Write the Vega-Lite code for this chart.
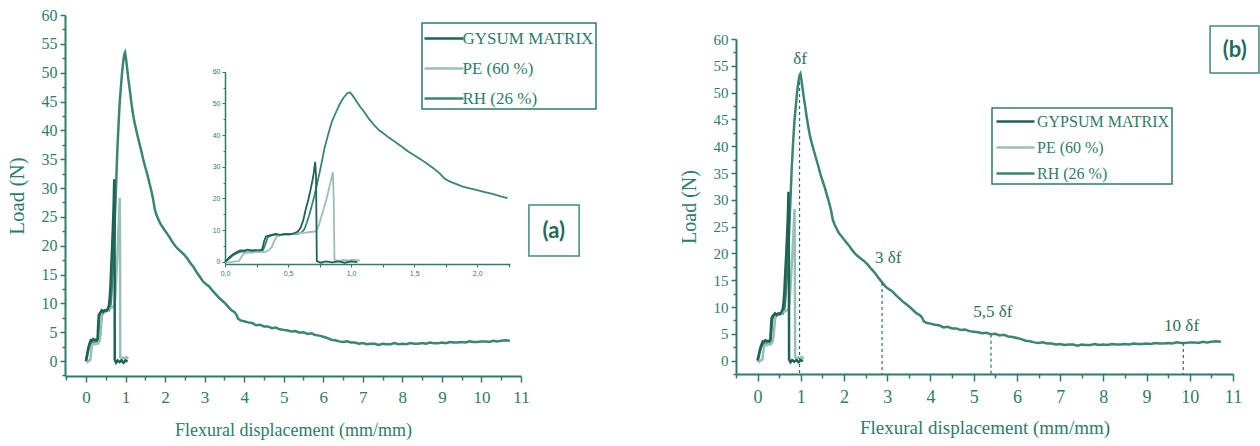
{
  "$schema": "https://vega.github.io/schema/vega-lite/v6.json",
  "width": 1260,
  "height": 446,
  "autosize": "none",
  "padding": 0,
  "background": "white",
  "config": {
    "view": {"stroke": null},
    "axis": {"grid": false, "domainColor": "#2e7b6b", "domainWidth": 2, "tickColor": "#2e7b6b", "tickWidth": 1.5, "labelColor": "#2e7b6b", "titleColor": "#2e7b6b", "labelFont": "Liberation Serif", "titleFont": "Liberation Serif", "titleFontWeight": "normal", "labelOverlap": false, "labelFlush": false, "labelBound": false, "tickCount": 200}
  },
  "datasets": {
    "curves": [
      {"series":"RH (26 %)","x":0,"y":0},{"series":"RH (26 %)","x":0.03,"y":0.9},{"series":"RH (26 %)","x":0.06,"y":1.9},{"series":"RH (26 %)","x":0.09,"y":2.6},{"series":"RH (26 %)","x":0.12,"y":3.1},{"series":"RH (26 %)","x":0.15,"y":3.3},{"series":"RH (26 %)","x":0.18,"y":3.0},{"series":"RH (26 %)","x":0.21,"y":3.2},{"series":"RH (26 %)","x":0.24,"y":3.1},{"series":"RH (26 %)","x":0.27,"y":3.4},{"series":"RH (26 %)","x":0.3,"y":3.6},{"series":"RH (26 %)","x":0.32,"y":5.5},{"series":"RH (26 %)","x":0.34,"y":7.8},{"series":"RH (26 %)","x":0.37,"y":8.3},{"series":"RH (26 %)","x":0.4,"y":8.6},{"series":"RH (26 %)","x":0.43,"y":8.3},{"series":"RH (26 %)","x":0.46,"y":8.7},{"series":"RH (26 %)","x":0.5,"y":8.6},{"series":"RH (26 %)","x":0.54,"y":8.9},{"series":"RH (26 %)","x":0.58,"y":8.8},{"series":"RH (26 %)","x":0.61,"y":9.3},{"series":"RH (26 %)","x":0.63,"y":10.3},{"series":"RH (26 %)","x":0.65,"y":12.5},{"series":"RH (26 %)","x":0.67,"y":15},{"series":"RH (26 %)","x":0.69,"y":18},{"series":"RH (26 %)","x":0.71,"y":21},{"series":"RH (26 %)","x":0.73,"y":24.5},{"series":"RH (26 %)","x":0.76,"y":30},{"series":"RH (26 %)","x":0.79,"y":36},{"series":"RH (26 %)","x":0.82,"y":40.5},{"series":"RH (26 %)","x":0.85,"y":44.5},{"series":"RH (26 %)","x":0.88,"y":47.2},{"series":"RH (26 %)","x":0.91,"y":49.8},{"series":"RH (26 %)","x":0.94,"y":51.8},{"series":"RH (26 %)","x":0.97,"y":53.2},{"series":"RH (26 %)","x":0.99,"y":53.5},{"series":"RH (26 %)","x":1.01,"y":52.6},{"series":"RH (26 %)","x":1.04,"y":50.8},{"series":"RH (26 %)","x":1.07,"y":49},{"series":"RH (26 %)","x":1.1,"y":47.5},{"series":"RH (26 %)","x":1.14,"y":45.2},{"series":"RH (26 %)","x":1.18,"y":43.3},{"series":"RH (26 %)","x":1.22,"y":41.6},{"series":"RH (26 %)","x":1.26,"y":40.4},{"series":"RH (26 %)","x":1.3,"y":39.2},{"series":"RH (26 %)","x":1.35,"y":37.8},{"series":"RH (26 %)","x":1.4,"y":36.4},{"series":"RH (26 %)","x":1.45,"y":34.9},{"series":"RH (26 %)","x":1.5,"y":33.6},{"series":"RH (26 %)","x":1.55,"y":32.4},{"series":"RH (26 %)","x":1.6,"y":31},{"series":"RH (26 %)","x":1.65,"y":29.6},{"series":"RH (26 %)","x":1.7,"y":28},{"series":"RH (26 %)","x":1.74,"y":26.3},{"series":"RH (26 %)","x":1.78,"y":25.4},{"series":"RH (26 %)","x":1.83,"y":24.6},{"series":"RH (26 %)","x":1.88,"y":23.8},{"series":"RH (26 %)","x":1.94,"y":23.2},{"series":"RH (26 %)","x":2.0,"y":22.6},{"series":"RH (26 %)","x":2.06,"y":22},{"series":"RH (26 %)","x":2.12,"y":21.4},{"series":"RH (26 %)","x":2.18,"y":20.7},{"series":"RH (26 %)","x":2.24,"y":20.1},{"series":"RH (26 %)","x":2.3,"y":19.6},{"series":"RH (26 %)","x":2.38,"y":19.1},{"series":"RH (26 %)","x":2.46,"y":18.6},{"series":"RH (26 %)","x":2.55,"y":17.9},{"series":"RH (26 %)","x":2.63,"y":17.1},{"series":"RH (26 %)","x":2.72,"y":16.3},{"series":"RH (26 %)","x":2.8,"y":15.4},{"series":"RH (26 %)","x":2.88,"y":14.6},{"series":"RH (26 %)","x":2.96,"y":13.8},{"series":"RH (26 %)","x":3.04,"y":13.3},{"series":"RH (26 %)","x":3.12,"y":12.9},{"series":"RH (26 %)","x":3.2,"y":12.2},{"series":"RH (26 %)","x":3.28,"y":11.6},{"series":"RH (26 %)","x":3.36,"y":11.0},{"series":"RH (26 %)","x":3.44,"y":10.5},{"series":"RH (26 %)","x":3.52,"y":10.0},{"series":"RH (26 %)","x":3.6,"y":9.4},{"series":"RH (26 %)","x":3.68,"y":8.8},{"series":"RH (26 %)","x":3.75,"y":8.5},{"series":"RH (26 %)","x":3.8,"y":8.1},{"series":"RH (26 %)","x":3.85,"y":7.3},{"series":"RH (26 %)","x":3.92,"y":7.0},{"series":"RH (26 %)","x":4.0,"y":6.9},{"series":"RH (26 %)","x":4.1,"y":6.7},{"series":"RH (26 %)","x":4.2,"y":6.6},{"series":"RH (26 %)","x":4.3,"y":6.2},{"series":"RH (26 %)","x":4.4,"y":6.3},{"series":"RH (26 %)","x":4.5,"y":6.0},{"series":"RH (26 %)","x":4.6,"y":6.0},{"series":"RH (26 %)","x":4.7,"y":5.7},{"series":"RH (26 %)","x":4.8,"y":5.8},{"series":"RH (26 %)","x":4.9,"y":5.5},{"series":"RH (26 %)","x":5.0,"y":5.4},{"series":"RH (26 %)","x":5.1,"y":5.3},{"series":"RH (26 %)","x":5.2,"y":5.1},{"series":"RH (26 %)","x":5.3,"y":5.2},{"series":"RH (26 %)","x":5.4,"y":4.9},{"series":"RH (26 %)","x":5.5,"y":5.0},{"series":"RH (26 %)","x":5.6,"y":4.7},{"series":"RH (26 %)","x":5.7,"y":4.8},{"series":"RH (26 %)","x":5.8,"y":4.5},{"series":"RH (26 %)","x":5.9,"y":4.4},{"series":"RH (26 %)","x":6.0,"y":4.2},{"series":"RH (26 %)","x":6.1,"y":4.0},{"series":"RH (26 %)","x":6.2,"y":3.7},{"series":"RH (26 %)","x":6.3,"y":3.6},{"series":"RH (26 %)","x":6.4,"y":3.4},{"series":"RH (26 %)","x":6.5,"y":3.3},{"series":"RH (26 %)","x":6.6,"y":3.4},{"series":"RH (26 %)","x":6.7,"y":3.2},{"series":"RH (26 %)","x":6.8,"y":3.2},{"series":"RH (26 %)","x":6.9,"y":3.0},{"series":"RH (26 %)","x":7.0,"y":3.1},{"series":"RH (26 %)","x":7.1,"y":2.9},{"series":"RH (26 %)","x":7.2,"y":3.0},{"series":"RH (26 %)","x":7.3,"y":3.0},{"series":"RH (26 %)","x":7.4,"y":2.8},{"series":"RH (26 %)","x":7.5,"y":3.0},{"series":"RH (26 %)","x":7.6,"y":2.9},{"series":"RH (26 %)","x":7.7,"y":2.9},{"series":"RH (26 %)","x":7.8,"y":3.1},{"series":"RH (26 %)","x":7.9,"y":2.9},{"series":"RH (26 %)","x":8.0,"y":3.0},{"series":"RH (26 %)","x":8.1,"y":2.9},{"series":"RH (26 %)","x":8.2,"y":3.1},{"series":"RH (26 %)","x":8.3,"y":3.0},{"series":"RH (26 %)","x":8.4,"y":3.0},{"series":"RH (26 %)","x":8.5,"y":3.1},{"series":"RH (26 %)","x":8.6,"y":3.0},{"series":"RH (26 %)","x":8.7,"y":3.2},{"series":"RH (26 %)","x":8.8,"y":3.1},{"series":"RH (26 %)","x":8.9,"y":3.1},{"series":"RH (26 %)","x":9.0,"y":3.2},{"series":"RH (26 %)","x":9.1,"y":3.1},{"series":"RH (26 %)","x":9.2,"y":3.3},{"series":"RH (26 %)","x":9.3,"y":3.2},{"series":"RH (26 %)","x":9.4,"y":3.2},{"series":"RH (26 %)","x":9.5,"y":3.3},{"series":"RH (26 %)","x":9.6,"y":3.2},{"series":"RH (26 %)","x":9.7,"y":3.4},{"series":"RH (26 %)","x":9.8,"y":3.3},{"series":"RH (26 %)","x":9.9,"y":3.3},{"series":"RH (26 %)","x":10.0,"y":3.4},{"series":"RH (26 %)","x":10.1,"y":3.4},{"series":"RH (26 %)","x":10.2,"y":3.3},{"series":"RH (26 %)","x":10.3,"y":3.5},{"series":"RH (26 %)","x":10.4,"y":3.4},{"series":"RH (26 %)","x":10.5,"y":3.5},{"series":"RH (26 %)","x":10.6,"y":3.6},{"series":"RH (26 %)","x":10.72,"y":3.5},
      {"series":"PE (60 %)","x":0,"y":0},{"series":"PE (60 %)","x":0.04,"y":-0.2},{"series":"PE (60 %)","x":0.08,"y":0.1},{"series":"PE (60 %)","x":0.11,"y":0.2},{"series":"PE (60 %)","x":0.13,"y":1.5},{"series":"PE (60 %)","x":0.15,"y":2.6},{"series":"PE (60 %)","x":0.18,"y":3.0},{"series":"PE (60 %)","x":0.22,"y":2.9},{"series":"PE (60 %)","x":0.26,"y":3.1},{"series":"PE (60 %)","x":0.3,"y":3.0},{"series":"PE (60 %)","x":0.34,"y":3.4},{"series":"PE (60 %)","x":0.37,"y":4.6},{"series":"PE (60 %)","x":0.39,"y":6.5},{"series":"PE (60 %)","x":0.41,"y":8.0},{"series":"PE (60 %)","x":0.44,"y":8.4},{"series":"PE (60 %)","x":0.48,"y":8.6},{"series":"PE (60 %)","x":0.52,"y":8.8},{"series":"PE (60 %)","x":0.56,"y":8.9},{"series":"PE (60 %)","x":0.6,"y":9.1},{"series":"PE (60 %)","x":0.64,"y":9.2},{"series":"PE (60 %)","x":0.68,"y":9.4},{"series":"PE (60 %)","x":0.72,"y":9.6},{"series":"PE (60 %)","x":0.74,"y":11},{"series":"PE (60 %)","x":0.77,"y":15},{"series":"PE (60 %)","x":0.8,"y":19},{"series":"PE (60 %)","x":0.83,"y":24},{"series":"PE (60 %)","x":0.855,"y":28.3},{"series":"PE (60 %)","x":0.862,"y":20},{"series":"PE (60 %)","x":0.868,"y":0.6},{"series":"PE (60 %)","x":0.9,"y":0.3},{"series":"PE (60 %)","x":0.94,"y":0.6},{"series":"PE (60 %)","x":0.98,"y":0.4},{"series":"PE (60 %)","x":1.02,"y":0.7},{"series":"PE (60 %)","x":1.07,"y":0.4},
      {"series":"GYPSUM MATRIX","x":0,"y":0},{"series":"GYPSUM MATRIX","x":0.03,"y":1.2},{"series":"GYPSUM MATRIX","x":0.06,"y":2.3},{"series":"GYPSUM MATRIX","x":0.09,"y":3.0},{"series":"GYPSUM MATRIX","x":0.12,"y":3.6},{"series":"GYPSUM MATRIX","x":0.15,"y":3.5},{"series":"GYPSUM MATRIX","x":0.18,"y":3.8},{"series":"GYPSUM MATRIX","x":0.21,"y":3.6},{"series":"GYPSUM MATRIX","x":0.24,"y":3.7},{"series":"GYPSUM MATRIX","x":0.27,"y":3.6},{"series":"GYPSUM MATRIX","x":0.295,"y":3.9},{"series":"GYPSUM MATRIX","x":0.31,"y":6.5},{"series":"GYPSUM MATRIX","x":0.325,"y":8.0},{"series":"GYPSUM MATRIX","x":0.36,"y":8.4},{"series":"GYPSUM MATRIX","x":0.4,"y":8.8},{"series":"GYPSUM MATRIX","x":0.44,"y":8.5},{"series":"GYPSUM MATRIX","x":0.48,"y":8.8},{"series":"GYPSUM MATRIX","x":0.52,"y":8.7},{"series":"GYPSUM MATRIX","x":0.55,"y":9.0},{"series":"GYPSUM MATRIX","x":0.58,"y":9.6},{"series":"GYPSUM MATRIX","x":0.6,"y":10.8},{"series":"GYPSUM MATRIX","x":0.62,"y":13},{"series":"GYPSUM MATRIX","x":0.64,"y":16.5},{"series":"GYPSUM MATRIX","x":0.66,"y":19.5},{"series":"GYPSUM MATRIX","x":0.68,"y":23},{"series":"GYPSUM MATRIX","x":0.7,"y":27},{"series":"GYPSUM MATRIX","x":0.715,"y":31.5},{"series":"GYPSUM MATRIX","x":0.722,"y":27},{"series":"GYPSUM MATRIX","x":0.728,"y":0.2},{"series":"GYPSUM MATRIX","x":0.76,"y":-0.3},{"series":"GYPSUM MATRIX","x":0.8,"y":0.1},{"series":"GYPSUM MATRIX","x":0.85,"y":-0.2},{"series":"GYPSUM MATRIX","x":0.9,"y":0.1},{"series":"GYPSUM MATRIX","x":0.95,"y":-0.3},{"series":"GYPSUM MATRIX","x":1.0,"y":0.1},{"series":"GYPSUM MATRIX","x":1.05,"y":-0.1}
    ],
    "guides": [
      {"label":"δf","x":0.97,"y":52,"y2":-2.5,"tx":0.98,"ty":56.3},
      {"label":"3 δf","x":2.88,"y":14.5,"y2":-2.5,"tx":3.02,"ty":19.2},
      {"label":"5,5 δf","x":5.4,"y":4.8,"y2":-2.5,"tx":5.44,"ty":9.0},
      {"label":"10 δf","x":9.85,"y":3.3,"y2":-2.5,"tx":9.81,"ty":6.5}
    ]
  },
  "layer": [
    {
      "data": {"name": "curves"},
      "layer": [
        {
          "mark": {"type": "line", "strokeWidth": 2.5},
          "encoding": {
            "x": {"field": "x", "type": "quantitative",
              "scale": {"domain": [-0.53, 11], "range": [65, 521], "nice": false, "zero": false},
              "axis": {"title": "Flexural displacement (mm/mm)", "orient": "bottom", "offset": -70, "labelOverlap": false, "tickCount": 200,
                "values": [-0.5,0,0.5,1,1.5,2,2.5,3,3.5,4,4.5,5,5.5,6,6.5,7,7.5,8,8.5,9,9.5,10,10.5,11],
                "labelExpr": "datum.value % 1 == 0 ? format(datum.value, 'd') : ''",
                "tickSize": {"condition": {"test": "datum.value % 1 == 0", "value": 6}, "value": 4},
                "labelFontSize": 17, "labelPadding": 7, "titleFontSize": 18, "titlePadding": 16}},
            "y": {"field": "y", "type": "quantitative",
              "scale": {"domain": [-2.6, 60], "range": [376, 15], "nice": false, "zero": false},
              "axis": {"title": "Load (N)", "orient": "left", "offset": -65, "labelOverlap": false, "tickCount": 200,
                "values": [-2.5,0,2.5,5,7.5,10,12.5,15,17.5,20,22.5,25,27.5,30,32.5,35,37.5,40,42.5,45,47.5,50,52.5,55,57.5,60],
                "labelExpr": "datum.value % 5 == 0 ? format(datum.value, 'd') : ''",
                "tickSize": {"condition": {"test": "datum.value % 5 == 0", "value": 5}, "value": 3},
                "labelFontSize": 16, "labelPadding": 3, "titleFontSize": 21, "titlePadding": 14}},
            "color": {"field": "series", "type": "nominal",
              "scale": {"domain": ["GYPSUM MATRIX", "PE (60 %)", "RH (26 %)"], "range": ["#1e6356", "#9bbfb4", "#3a8574"]},
              "legend": {"title": null, "orient": "none", "legendX": 422, "legendY": 23,
                "labelExpr": "datum.label == 'GYPSUM MATRIX' ? 'GYSUM MATRIX' : datum.label",
                "strokeColor": "#2e7b6b", "padding": 2,
                "symbolType": "M-1.625,0H1.625", "symbolSize": 576, "symbolStrokeWidth": 2.5, "symbolOffset": 6.5,
                "labelFont": "Liberation Serif", "labelFontSize": 17, "labelColor": "#2e7b6b", "labelOffset": 5, "rowPadding": 8,
                "encode": {"legend": {"update": {"strokeWidth": {"value": 1.5}}}}}}
          }
        },
        {
          "data": {"values": [{"label": "(a)"}]},
          "mark": {"type": "rect", "fill": "transparent", "stroke": "#3f8a7b", "strokeWidth": 1.5},
          "encoding": {"x": {"datum": 11.2, "type": "quantitative"}, "x2": {"datum": 12.47}, "y": {"datum": 27.05, "type": "quantitative"}, "y2": {"datum": 18.2}}
        },
        {
          "data": {"values": [{"label": "(a)"}]},
          "mark": {"type": "text", "font": "Lato", "fontWeight": "bold", "fontSize": 22, "color": "#236b5d", "baseline": "middle", "align": "center"},
          "encoding": {"x": {"datum": 11.83, "type": "quantitative"}, "y": {"datum": 22.6, "type": "quantitative"}, "text": {"field": "label"}}
        }
      ]
    },
    {
      "data": {"name": "curves"},
      "transform": [{"filter": "datum.x <= 2.26"}],
      "mark": {"type": "line", "strokeWidth": 1.8},
      "encoding": {
        "x": {"field": "x", "type": "quantitative",
          "scale": {"domain": [0, 2.26], "range": [225, 510], "nice": false, "zero": false},
          "axis": {"title": null, "orient": "bottom", "offset": -182, "domainWidth": 1.5, "tickWidth": 1, "labelOverlap": false, "tickCount": 200,
            "values": [0,0.25,0.5,0.75,1,1.25,1.5,1.75,2,2.25],
            "labelExpr": "datum.value % 0.5 == 0 ? replace(format(datum.value, '.1f'), '.', ',') : ''",
            "tickSize": 3, "labelFont": "Liberation Sans", "labelFontSize": 7, "labelPadding": 2}},
        "y": {"field": "y", "type": "quantitative",
          "scale": {"domain": [-0.7, 60], "range": [264, 71.7], "nice": false, "zero": false},
          "axis": {"title": null, "orient": "left", "offset": -225, "domainWidth": 1.5, "tickWidth": 1, "labelOverlap": false, "tickCount": 200,
            "values": [0,5,10,15,20,25,30,35,40,45,50,55,60],
            "labelExpr": "datum.value % 10 == 0 ? format(datum.value, 'd') : ''",
            "tickSize": {"condition": {"test": "datum.value % 10 == 0", "value": 3}, "value": 2},
            "labelFont": "Liberation Sans", "labelFontSize": 7, "labelPadding": 2}},
        "color": {"field": "series", "type": "nominal",
          "scale": {"domain": ["GYPSUM MATRIX", "PE (60 %)", "RH (26 %)"], "range": ["#1e6356", "#9bbfb4", "#3a8574"]},
          "legend": null}
      }
    },
    {
      "data": {"name": "curves"},
      "layer": [
        {
          "mark": {"type": "line", "strokeWidth": 2.5},
          "encoding": {
            "x": {"field": "x", "type": "quantitative",
              "scale": {"domain": [-0.5, 11], "range": [736, 1233], "nice": false, "zero": false},
              "axis": {"title": "Flexural displacement (mm/mm)", "orient": "bottom", "offset": -72, "labelOverlap": false, "tickCount": 200,
                "values": [-0.5,0,0.5,1,1.5,2,2.5,3,3.5,4,4.5,5,5.5,6,6.5,7,7.5,8,8.5,9,9.5,10,10.5,11],
                "labelExpr": "datum.value % 1 == 0 ? format(datum.value, 'd') : ''",
                "tickSize": {"condition": {"test": "datum.value % 1 == 0", "value": 7}, "value": 4},
                "labelFontSize": 18, "labelPadding": 7, "titleFontSize": 19, "titlePadding": 12}},
            "y": {"field": "y", "type": "quantitative",
              "scale": {"domain": [-2.5, 60], "range": [374, 39], "nice": false, "zero": false},
              "axis": {"title": "Load (N)", "orient": "left", "offset": -736, "labelOverlap": false, "tickCount": 200,
                "values": [-2.5,0,2.5,5,7.5,10,12.5,15,17.5,20,22.5,25,27.5,30,32.5,35,37.5,40,42.5,45,47.5,50,52.5,55,57.5,60],
                "labelExpr": "datum.value % 5 == 0 ? format(datum.value, 'd') : ''",
                "tickSize": {"condition": {"test": "datum.value % 5 == 0", "value": 5}, "value": 3},
                "labelFontSize": 15, "labelPadding": 3, "titleFontSize": 20, "titlePadding": 14}},
            "color": {"field": "series", "type": "nominal",
              "scale": {"domain": ["GYPSUM MATRIX", "PE (60 %)", "RH (26 %)"], "range": ["#1e6356", "#9bbfb4", "#3a8574"]},
              "legend": {"title": null, "orient": "none", "legendX": 992, "legendY": 108,
                "strokeColor": "#2e7b6b", "padding": 2,
                "symbolType": "M-1.9,0H1.9", "symbolSize": 400, "symbolStrokeWidth": 2.5, "symbolOffset": 10,
                "labelFont": "Liberation Serif", "labelFontSize": 16, "labelColor": "#2e7b6b", "labelOffset": 10, "rowPadding": 6,
                "encode": {"legend": {"update": {"strokeWidth": {"value": 1.5}}}}}}
          }
        },
        {
          "data": {"name": "guides"},
          "mark": {"type": "rule", "strokeDash": [3, 3], "strokeWidth": 1.2, "color": "#2e6f62"},
          "encoding": {"x": {"field": "x", "type": "quantitative"}, "y": {"field": "y", "type": "quantitative"}, "y2": {"field": "y2"}}
        },
        {
          "data": {"name": "guides"},
          "mark": {"type": "text", "font": "Liberation Serif", "fontSize": 17, "color": "#2e6f62", "baseline": "middle", "align": "center"},
          "encoding": {"x": {"field": "tx", "type": "quantitative"}, "y": {"field": "ty", "type": "quantitative"}, "text": {"field": "label"}}
        },
        {
          "data": {"values": [{"label": "(b)"}]},
          "mark": {"type": "rect", "fill": "transparent", "stroke": "#3f8a7b", "strokeWidth": 1.5},
          "encoding": {"x": {"datum": 10.47, "type": "quantitative"}, "x2": {"datum": 11.6}, "y": {"datum": 62.42, "type": "quantitative"}, "y2": {"datum": 53.67}}
        },
        {
          "data": {"values": [{"label": "(b)"}]},
          "mark": {"type": "text", "font": "Lato", "fontWeight": "bold", "fontSize": 22, "color": "#236b5d", "baseline": "middle", "align": "center"},
          "encoding": {"x": {"datum": 11.04, "type": "quantitative"}, "y": {"datum": 58.0, "type": "quantitative"}, "text": {"field": "label"}}
        }
      ]
    }
  ],
  "resolve": {"scale": {"x": "independent", "y": "independent", "color": "independent"}, "axis": {"x": "independent", "y": "independent"}, "legend": {"color": "independent"}}
}
